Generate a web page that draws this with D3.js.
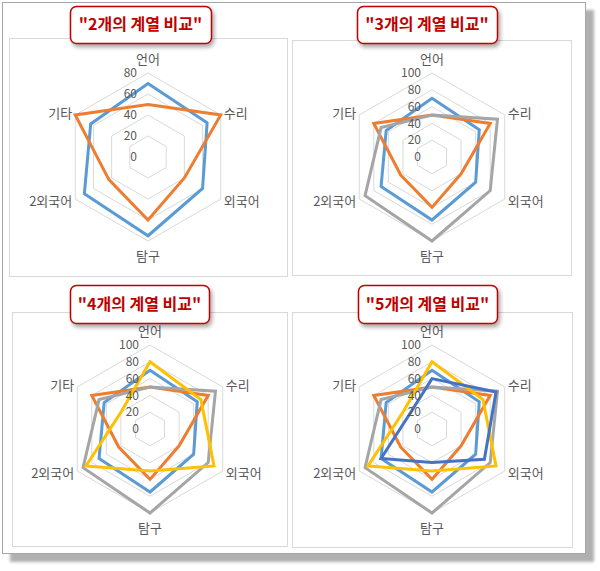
<!DOCTYPE html>
<html>
<head>
<meta charset="utf-8">
<script src="https://cdn.jsdelivr.net/npm/d3@7"></script>
<style>
  body { margin: 0; background: #fff; }
  svg { display: block; font-family: "Noto Sans CJK KR", "Noto Sans", sans-serif; }
</style>
</head>
<body>
<div id="chart"></div>
<script>
// categories (axes of every radar)
const categories = ["언어", "수리", "외국어", "탐구", "2외국어", "기타"];

// series values
const series1 = [70, 65, 60, 75, 70, 63];
const series2 = [50, 80, 40, 60, 43, 80];
const series3 = [50, 90, 80, 100, 92, 70];
const series4 = [80, 70, 88, 50, 88, 40];
const series5 = [60, 88, 72, 40, 70, 32];

const titles = ['"2개의 계열 비교"', '"3개의 계열 비교"', '"4개의 계열 비교"', '"5개의 계열 비교"'];
const seriesCount = [2, 3, 4, 5];
const ticksSmall = [0, 20, 40, 60, 80];
const ticksLarge = [0, 20, 40, 60, 80, 100];

const allSeries = [series1, series2, series3, series4, series5];
const colors = ["#5B9BD5", "#ED7D31", "#A5A5A5", "#FFC000", "#4472C4"];

// layout of the four panels
const panels = [
  { box: [9, 38, 278, 238], cx: 148, cy: 157, ticks: ticksSmall, callout: [70, 6, 141, 37] },
  { box: [292, 40, 279, 235], cx: 432, cy: 157, ticks: ticksLarge, callout: [357, 6, 140, 37] },
  { box: [12, 312, 275, 234], cx: 150, cy: 429, ticks: ticksLarge, callout: [70, 285, 139, 38] },
  { box: [292, 312, 280, 235], cx: 432, cy: 429, ticks: ticksLarge, callout: [358, 285, 139, 38] }
];
const R = 84;

const svg = d3.select("#chart").append("svg")
  .attr("width", 600)
  .attr("height", 571);

const defs = svg.append("defs");
const sh = defs.append("filter").attr("id", "frameShadow")
  .attr("x", "-5%").attr("y", "-5%").attr("width", "115%").attr("height", "115%");
sh.append("feGaussianBlur").attr("in", "SourceAlpha").attr("stdDeviation", 1.5).attr("result", "b");
sh.append("feOffset").attr("dx", 8).attr("dy", 8).attr("result", "o");
sh.append("feFlood").attr("flood-color", "#b0b0b0");
sh.append("feComposite").attr("in2", "o").attr("operator", "in").attr("result", "s");
const m1 = sh.append("feMerge");
m1.append("feMergeNode").attr("in", "s");
m1.append("feMergeNode").attr("in", "SourceGraphic");

const cs = defs.append("filter").attr("id", "calloutShadow")
  .attr("x", "-10%").attr("y", "-20%").attr("width", "130%").attr("height", "160%");
cs.append("feDropShadow").attr("dx", 2).attr("dy", 3).attr("stdDeviation", 2)
  .attr("flood-color", "#000").attr("flood-opacity", 0.35);

// outer frame
svg.append("rect")
  .attr("x", 2.5).attr("y", 2.5)
  .attr("width", 583).attr("height", 551)
  .attr("fill", "#fff")
  .attr("stroke", "#a6a6a6")
  .attr("filter", "url(#frameShadow)");

const angle = d3.scaleBand().domain(categories).range([0, 2 * Math.PI]);

panels.forEach((p, pi) => {
  const g = svg.append("g");

  g.append("rect")
    .attr("x", p.box[0] + 0.5).attr("y", p.box[1] + 0.5)
    .attr("width", p.box[2]).attr("height", p.box[3])
    .attr("fill", "#fff")
    .attr("stroke", "#d9d9d9");

  const maxV = d3.max(p.ticks);
  const r = d3.scaleLinear().domain([0, maxV]).range([0, R]);

  const c = g.append("g").attr("transform", `translate(${p.cx},${p.cy})`);

  const ring = d3.lineRadial()
    .angle((d) => angle(d))
    .curve(d3.curveLinearClosed);

  // gridlines
  c.selectAll(".grid")
    .data(p.ticks.filter((t) => t > 0))
    .join("path")
    .attr("class", "grid")
    .attr("d", (t) => ring.radius(r(t))(categories))
    .attr("fill", "none")
    .attr("stroke", "#d9d9d9")
    .attr("stroke-width", 1);

  // series lines
  const line = d3.lineRadial()
    .angle((d, i) => angle(categories[i]))
    .radius((d) => r(d))
    .curve(d3.curveLinearClosed);

  c.selectAll(".series")
    .data(allSeries.slice(0, seriesCount[pi]))
    .join("path")
    .attr("class", "series")
    .attr("d", (d) => line(d))
    .attr("fill", "none")
    .attr("stroke", (d, i) => colors[i])
    .attr("stroke-width", 3)
    .attr("stroke-linejoin", "miter");

  // tick labels
  c.selectAll(".tick")
    .data(p.ticks)
    .join("text")
    .attr("class", "tick")
    .attr("x", -11)
    .attr("y", (t) => -r(t))
    .attr("dy", "0.35em")
    .attr("text-anchor", "end")
    .attr("font-size", 12)
    .attr("fill", "#595959")
    .text((t) => t);

  // category labels
  c.selectAll(".cat")
    .data(categories)
    .join("text")
    .attr("class", "cat")
    .each(function (d) {
      const a = angle(d);
      const sx = Math.sin(a), sy = -Math.cos(a);
      let x = sx * R, y = sy * R, anchor = "middle";
      if (Math.abs(sx) < 0.01) {
        y += sy < 0 ? -14 : 15;
      } else {
        anchor = sx > 0 ? "start" : "end";
        x += sx > 0 ? 3 : -3;
        y += sy < 0 ? -2 : 2;
      }
      d3.select(this)
        .attr("x", x).attr("y", y)
        .attr("dy", "0.35em")
        .attr("text-anchor", anchor);
    })
    .attr("font-size", 13)
    .attr("fill", "#595959")
    .text((d) => d);

  // callout title
  const t = svg.append("g");
  t.append("rect")
    .attr("x", p.callout[0] + 0.5).attr("y", p.callout[1] + 0.5)
    .attr("width", p.callout[2]).attr("height", p.callout[3])
    .attr("rx", 6)
    .attr("fill", "#fff")
    .attr("stroke", "#c00000")
    .attr("stroke-width", 1.5)
    .attr("filter", "url(#calloutShadow)");
  t.append("text")
    .attr("x", p.callout[0] + p.callout[2] / 2)
    .attr("y", p.callout[1] + p.callout[3] / 2)
    .attr("dy", "0.36em")
    .attr("text-anchor", "middle")
    .attr("font-size", 16)
    .attr("font-weight", "bold")
    .attr("fill", "#c00000")
    .text(titles[pi]);
});
</script>
</body>
</html>
